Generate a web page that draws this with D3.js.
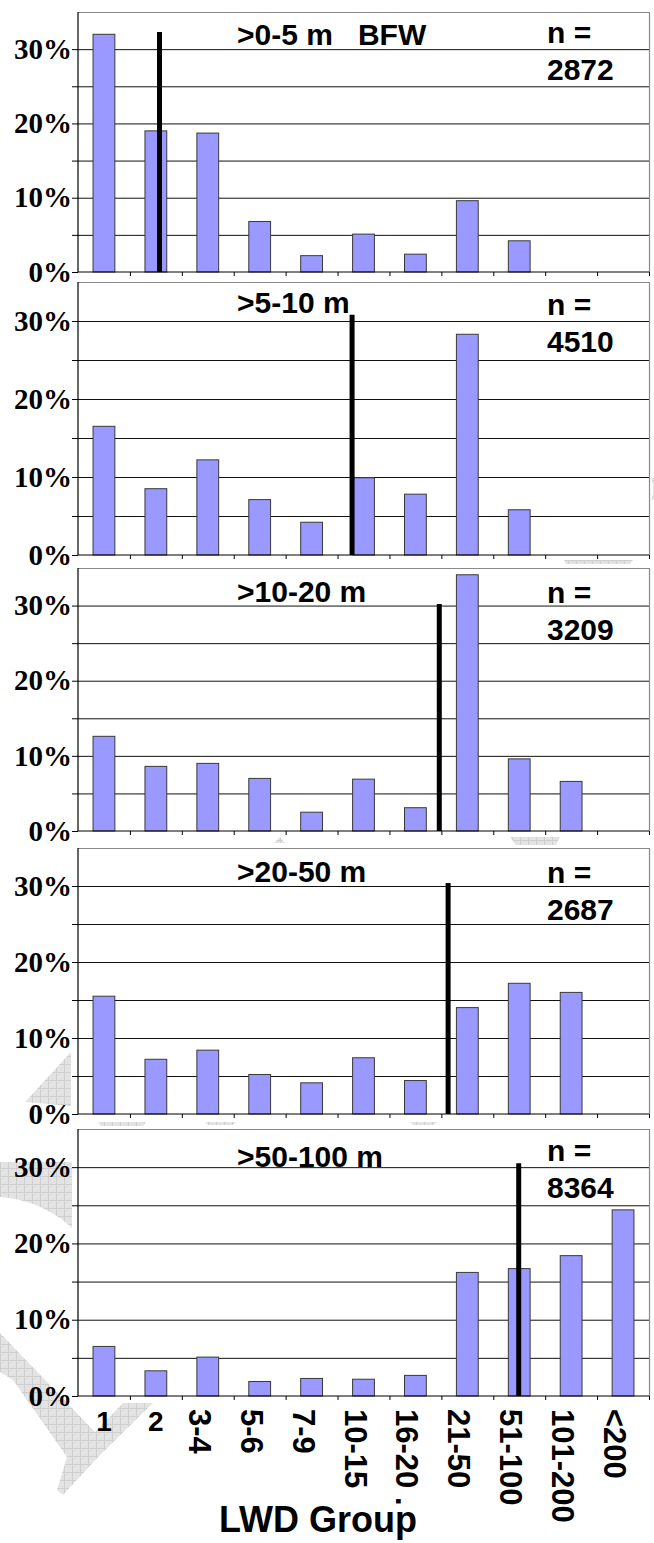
<!DOCTYPE html>
<html>
<head>
<meta charset="utf-8">
<script src="https://cdn.jsdelivr.net/npm/d3@7.9.0/dist/d3.min.js"></script>
<style>
  body { margin: 0; background: #fff; }
  svg { display: block; }
  .sans { font-family: "Liberation Sans", Arial, sans-serif; font-weight: bold; white-space: pre; }
</style>
</head>
<body>
<div id="chart"></div>
<script>
// LWD group share (%) per bankfull width class
const categories = ['1', '2', '3-4', '5-6', '7-9', '10-15', '16-20 .', '21-50', '51-100', '101-200', '<200'];
const panelLabels = ['>0-5 m   BFW', '>5-10 m', '>10-20 m', '>20-50 m', '>50-100 m'];
const sampleSizes = [2872, 4510, 3209, 2687, 8364];

const bfw0to5 = [32.0, 19.0, 18.7, 6.8, 2.2, 5.1, 2.4, 9.6, 4.2, 0, 0];
const bfw5to10 = [16.5, 8.5, 12.2, 7.1, 4.2, 9.9, 7.8, 28.3, 5.8, 0, 0];
const bfw10to20 = [12.6, 8.6, 9.0, 7.0, 2.5, 6.9, 3.1, 34.1, 9.6, 6.6, 0];
const bfw20to50 = [15.5, 7.2, 8.4, 5.2, 4.1, 7.4, 4.4, 14.0, 17.2, 16.0, 0];
const bfw50to100 = [6.5, 3.3, 5.1, 1.9, 2.3, 2.2, 2.7, 16.2, 16.7, 18.4, 24.4];
const panelValues = [bfw0to5, bfw5to10, bfw10to20, bfw20to50, bfw50to100];

// median marker: position in category units, and its height in %
const medianPos = [1.57, 5.28, 6.96, 7.13, 8.49];
const medianTop = [32.3, 30.8, 30.2, 30.4, 30.5];

const yTicks = [0, 5, 10, 15, 20, 25, 30];

const width = 654;
const height = 1543;
const left = 78;
const right = 649;
const panelTop = [12, 282, 568, 848, 1129];
const panelZero = [272, 555, 831, 1114, 1396];
const titleY = [45, 313, 602, 882, 1167];
const nY = [43, 315, 603, 883, 1161];

const svg = d3.select('#chart')
  .append('svg')
  .attr('width', width)
  .attr('height', height);

// faint watermark pieces showing around the plot areas
const defs = svg.append('defs');
const pat = defs.append('pattern')
  .attr('id', 'wm')
  .attr('patternUnits', 'userSpaceOnUse')
  .attr('width', 8)
  .attr('height', 8);
pat.append('rect').attr('width', 8).attr('height', 8).attr('fill', '#e3e3e3');
pat.append('path').attr('d', 'M0,0.5H8M0.5,0V8').attr('stroke', '#cfcfcf').attr('stroke-width', 1);

const watermark = [
  'M0,1333 L95,1432 L123,1403 L153,1403 L100,1455 L63,1495 L57,1490 L67,1457 L13,1380 L0,1372 Z',
  'M0,1162 L72,1162 L72,1228 C55,1212 30,1199 0,1197 Z',
  'M71,1052 L71,1106 L25,1102 Z',
  'M564,560 L633,560 L630,564 L566,564 Z',
  'M274,843 L280,837 L285,843 Z',
  'M510,837 L560,837 L556,845 L516,845 Z',
  'M98,1122 L146,1122 L143,1126 L101,1126 Z',
  'M205,1122 L236,1122 L233,1125 L208,1125 Z',
  'M410,1122 L437,1122 L434,1125 L413,1125 Z',
  'M651,478 C654,484 654,494 651,500 L654,500 L654,478 Z',
];
svg.append('g')
  .selectAll('path')
  .data(watermark)
  .join('path')
  .attr('d', (d) => d)
  .attr('fill', 'url(#wm)');

const x = d3.scaleBand()
  .domain(categories)
  .range([left, right])
  .paddingInner(0.58)
  .paddingOuter(0.29);

const pos = d3.scaleLinear()
  .domain([0, categories.length])
  .range([left, right]);

panelValues.forEach((values, i) => {
  const y = d3.scaleLinear()
    .domain([0, 35])
    .range([panelZero[i], panelTop[i]]);

  const g = svg.append('g');

  g.append('rect')
    .attr('x', left)
    .attr('y', panelTop[i])
    .attr('width', right - left)
    .attr('height', panelZero[i] - panelTop[i])
    .attr('fill', '#fff');

  // gridlines every 5%
  g.append('g')
    .attr('transform', `translate(${left}, 0)`)
    .call(d3.axisLeft(y).tickValues(yTicks.slice(1)).tickSize(-(right - left)).tickFormat(''))
    .call((a) => a.select('.domain').remove())
    .selectAll('line')
    .attr('stroke', '#111');

  // frame: top and right in grey
  g.append('path')
    .attr('d', `M${left},${panelTop[i] + 0.5}H${right + 0.5}V${panelZero[i]}`)
    .attr('fill', 'none')
    .attr('stroke', '#8a8a8a')
    .attr('stroke-width', 1.2);

  // bars
  g.append('g')
    .selectAll('rect')
    .data(values.map((v, j) => ({ cat: categories[j], v })).filter((d) => d.v > 0))
    .join('rect')
    .attr('x', (d) => x(d.cat))
    .attr('y', (d) => y(d.v))
    .attr('width', x.bandwidth())
    .attr('height', (d) => y(0) - y(d.v))
    .attr('fill', '#9999ff')
    .attr('stroke', '#3a3a3a')
    .attr('stroke-width', 1);

  // x ticks at category boundaries
  g.append('g')
    .attr('transform', `translate(0, ${panelZero[i]})`)
    .call(d3.axisBottom(pos).tickValues(d3.range(1, categories.length + 1)).tickSize(4).tickFormat(''))
    .call((a) => a.select('.domain').remove())
    .selectAll('line')
    .attr('stroke', '#000');

  g.append('line')
    .attr('x1', left)
    .attr('x2', right)
    .attr('y1', y(0))
    .attr('y2', y(0))
    .attr('stroke', '#000')
    .attr('stroke-width', 1.2);

  // y axis with % labels
  g.append('g')
    .attr('transform', `translate(${left}, 0)`)
    .call(d3.axisLeft(y).tickValues(yTicks).tickSize(6).tickPadding(0).tickFormat((d) => (d % 10 === 0 ? `${d}%` : '')))
    .call((a) => a.select('.domain').remove())
    .attr('font-family', '"Liberation Serif", "Times New Roman", serif')
    .attr('font-size', 29)
    .attr('font-weight', 'bold')
    .call((a) => a.selectAll('line').attr('stroke', '#000'))
    .call((a) => a.selectAll('text').attr('fill', '#000'));

  g.append('line')
    .attr('x1', left)
    .attr('x2', left)
    .attr('y1', panelTop[i])
    .attr('y2', panelZero[i])
    .attr('stroke', '#000')
    .attr('stroke-width', 1.2);

  // median marker
  g.append('line')
    .attr('x1', pos(medianPos[i]))
    .attr('x2', pos(medianPos[i]))
    .attr('y1', y(medianTop[i]))
    .attr('y2', y(0))
    .attr('stroke', '#000')
    .attr('stroke-width', 5);

  g.append('text')
    .attr('class', 'sans')
    .attr('x', 237)
    .attr('y', titleY[i])
    .attr('font-size', 30)
    .text(panelLabels[i]);

  g.append('text')
    .attr('class', 'sans')
    .attr('x', 547)
    .attr('y', nY[i])
    .attr('font-size', 30)
    .text('n =');

  g.append('text')
    .attr('class', 'sans')
    .attr('x', 547)
    .attr('y', nY[i] + 37)
    .attr('font-size', 30)
    .text(sampleSizes[i]);
});

// category labels under the last panel
const labels = svg.append('g').attr('class', 'sans');
categories.forEach((c, j) => {
  const cx = x(c) + x.bandwidth() / 2;
  if (j < 2) {
    labels.append('text')
      .attr('x', cx)
      .attr('y', 1431)
      .attr('text-anchor', 'middle')
      .attr('font-size', 28)
      .text(c);
  } else {
    labels.append('text')
      .attr('transform', `translate(${cx - 19}, 1409) rotate(90)`)
      .attr('font-size', 31)
      .text(c);
  }
});

svg.append('text')
  .attr('class', 'sans')
  .attr('x', 318)
  .attr('y', 1532)
  .attr('text-anchor', 'middle')
  .attr('font-size', 36)
  .text('LWD Group');
</script>
</body>
</html>
